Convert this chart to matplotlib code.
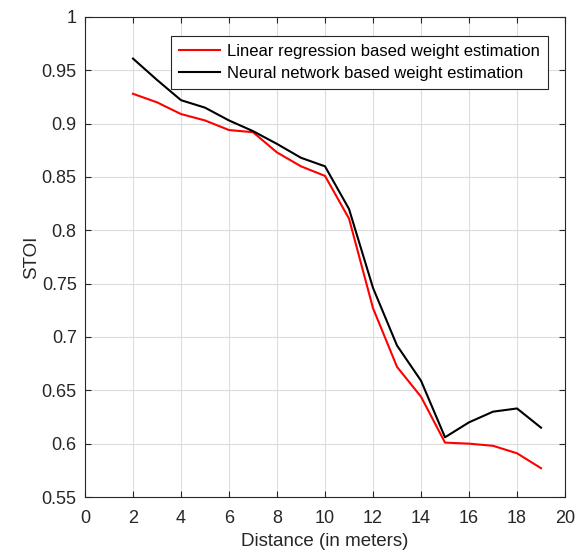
import matplotlib.pyplot as plt

# distance (m) and STOI values
distance = [2, 3, 4, 5, 6, 7, 8, 9, 10, 11, 12, 13, 14, 15, 16, 17, 18, 19]
stoi_linreg = [0.928, 0.920, 0.909, 0.903, 0.894, 0.892, 0.873, 0.860, 0.851, 0.811,
               0.727, 0.672, 0.644, 0.601, 0.600, 0.598, 0.591, 0.577]
stoi_nn = [0.961, 0.941, 0.922, 0.915, 0.903, 0.893, 0.881, 0.868, 0.860, 0.820,
           0.746, 0.692, 0.659, 0.606, 0.620, 0.630, 0.633, 0.615]

xticks = list(range(0, 21, 2))
yticks = [0.55, 0.6, 0.65, 0.7, 0.75, 0.8, 0.85, 0.9, 0.95, 1]
ytick_labels = ['0.55', '0.6', '0.65', '0.7', '0.75', '0.8', '0.85', '0.9', '0.95', '1']

plt.rcParams['font.family'] = ['Liberation Sans', 'DejaVu Sans']
axcol = '#262626'

fig = plt.figure(figsize=(5.81, 5.55), dpi=100)
ax = fig.add_axes([0.1463, 0.1045, 0.8262, 0.8649])

ax.plot(distance, stoi_linreg, color='red', lw=1.5, label='Linear regression based weight estimation')
ax.plot(distance, stoi_nn, color='black', lw=1.5, label='Neural network based weight estimation')

ax.set_xlim(0, 20)
ax.set_ylim(0.55, 1)
ax.set_xticks(xticks)
ax.set_yticks(yticks)
ax.set_yticklabels(ytick_labels)
ax.grid(True, color='#dcdcdc', lw=0.8)
ax.set_axisbelow(True)
ax.tick_params(direction='in', top=True, right=True, labelsize=13, colors=axcol, length=4)
ax.tick_params(axis='x', pad=9)
ax.tick_params(axis='y', pad=6)
for s in ax.spines.values():
    s.set_color(axcol)
    s.set_linewidth(0.8)

ax.set_xlabel('Distance (in meters)', fontsize=13.5, color=axcol, labelpad=5)
ax.set_ylabel('STOI', fontsize=13.5, color=axcol, labelpad=1)

leg = ax.legend(loc='upper right', bbox_to_anchor=(0.965, 0.961), fontsize=12,
                fancybox=False, edgecolor=axcol, framealpha=1, handlelength=2.45,
                borderpad=0.5, labelspacing=0.4, handletextpad=0.42, borderaxespad=0)
leg.get_frame().set_linewidth(0.8)

fig.savefig('out.png', dpi=100)
